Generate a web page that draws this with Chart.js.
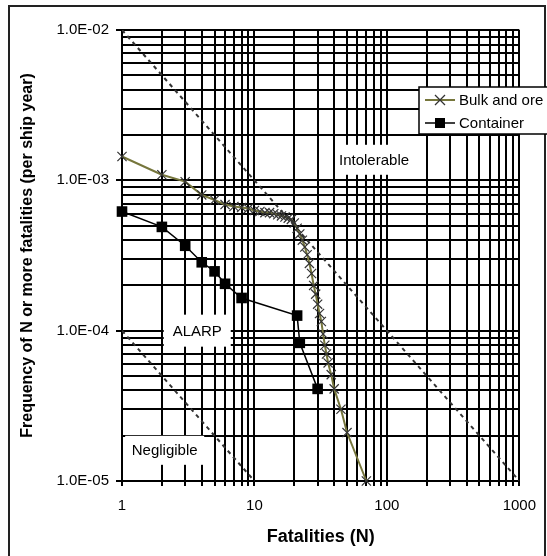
<!DOCTYPE html>
<html><head><meta charset="utf-8">
<script src="https://cdn.jsdelivr.net/npm/chart.js@4.4.1/dist/chart.umd.min.js"></script>
<style>html,body{margin:0;padding:0;background:#fff;}#wrap{width:547px;height:556px;position:relative;}</style>
</head><body><div id="wrap"><canvas id="c" width="547" height="556"></canvas></div>
<script>
// ---- data ----
const bulkN = [1,2,3,4,5,6,7,8,9,10,11,12,13,14,15,16,17,18,19,20,21,22,23,24,25,26,27,28,29,30,31,32,33,34,35,36,38,40,45,50,70];
const bulkF = [1.44e-3,1.09e-3,9.8e-4,8.0e-4,7.4e-4,6.9e-4,6.7e-4,6.6e-4,6.5e-4,6.3e-4,6.2e-4,6.1e-4,6.1e-4,6.0e-4,5.9e-4,5.8e-4,5.7e-4,5.6e-4,5.5e-4,5.2e-4,4.8e-4,4.4e-4,4.0e-4,3.6e-4,3.2e-4,2.8e-4,2.4e-4,2.0e-4,1.75e-4,1.5e-4,1.3e-4,1.15e-4,9.5e-5,8.0e-5,7.0e-5,6.1e-5,5.1e-5,4.1e-5,3.0e-5,2.1e-5,1.0e-5];
const containerN = [1,2,3,4,5,6,8,21,22,30];
const containerF = [6.2e-4,4.9e-4,3.67e-4,2.85e-4,2.48e-4,2.05e-4,1.65e-4,1.26e-4,8.3e-5,4.1e-5];
const intolerableN = [1,1000];
const intolerableF = [1e-2,1e-5];
const negligibleN = [1,10];
const negligibleF = [1e-4,1e-5];
const seriesNames = ['Bulk and ore','Container'];
const xDecades = [1,10,100,1000];
const xTickLabels = ['1','10','100','1000'];
const yDecades = [1e-5,1e-4,1e-3,1e-2];
const yTickLabels = ['1.0E-05','1.0E-04','1.0E-03','1.0E-02'];
const regionNames = ['Intolerable','ALARP','Negligible'];
const xTitle = 'Fatalities (N)';
const yTitle = 'Frequency of N or more fatalities (per ship year)';

function pts(xs, ys){ return xs.map((x,i)=>({x:x,y:ys[i]})); }
function logTicks(dec){
  const out=[];
  for(let i=0;i<dec.length-1;i++){ for(let k=1;k<=9;k++){ out.push(Number((dec[i]*k).toPrecision(12))); } }
  out.push(dec[dec.length-1]);
  return out;
}
function isDecade(v){ const l=Math.log10(v); return Math.abs(l-Math.round(l))<1e-9; }
function decadeIndex(dec, v){ return dec.findIndex(d=>Math.abs(Math.log10(d)-Math.log10(v))<1e-9); }

const FONT = "'Liberation Sans', Arial, sans-serif";

const boxesPlugin = {
  id:'regionBoxes',
  beforeDatasetsDraw(chart, args, opts){
    const ctx=chart.ctx, xs=chart.scales.x, ys=chart.scales.y;
    ctx.save();
    opts.items.forEach(it=>{
      const cx=xs.getPixelForValue(it.n), cy=ys.getPixelForValue(it.f);
      ctx.fillStyle='#fff';
      ctx.fillRect(cx-it.w/2, cy-it.h/2, it.w, it.h);
      ctx.fillStyle='#000';
      ctx.font='15px '+FONT;
      ctx.textAlign='center'; ctx.textBaseline='middle';
      ctx.fillText(it.text, cx, cy+1);
    });
    ctx.restore();
  }
};

const legendPlugin = {
  id:'boxLegend',
  afterDraw(chart, args, opts){
    const ctx=chart.ctx;
    ctx.save();
    // outer frame
    ctx.strokeStyle='#222'; ctx.lineWidth=2;
    ctx.strokeRect(9,6,536,560);
    // legend box
    ctx.fillStyle='#fff'; ctx.strokeStyle='#000'; ctx.lineWidth=1.5;
    ctx.fillRect(opts.x, opts.y, opts.w, opts.h);
    ctx.strokeRect(opts.x, opts.y, opts.w, opts.h);
    ctx.font='15px '+FONT; ctx.textBaseline='middle'; ctx.textAlign='left';
    [0,1].forEach(i=>{
      const ds=chart.data.datasets[i];
      const y=opts.y+opts.rowY[i];
      const x0=opts.x+6, x1=opts.x+36, xm=(x0+x1)/2;
      ctx.strokeStyle=ds.borderColor; ctx.lineWidth=ds.borderWidth;
      ctx.beginPath(); ctx.moveTo(x0,y); ctx.lineTo(x1,y); ctx.stroke();
      if(i===0){
        const r=5;
        ctx.strokeStyle=ds.pointBorderColor; ctx.lineWidth=1.3;
        ctx.beginPath(); ctx.moveTo(xm-r,y-r); ctx.lineTo(xm+r,y+r); ctx.moveTo(xm-r,y+r); ctx.lineTo(xm+r,y-r); ctx.stroke();
      } else {
        ctx.fillStyle='#000'; ctx.fillRect(xm-5,y-5,10,10);
      }
      ctx.fillStyle='#000';
      ctx.fillText(ds.label, opts.x+40, y+1);
    });
    ctx.restore();
  }
};

new Chart(document.getElementById('c'), {
  type:'line',
  data:{ datasets:[
    { label:seriesNames[0], data:pts(bulkN,bulkF), borderColor:'#76763c', borderWidth:2, pointStyle:'crossRot', pointRadius:6.5, pointBorderColor:'#333', pointBorderWidth:1.2, fill:false, tension:0, clip:false },
    { label:seriesNames[1], data:pts(containerN,containerF), borderColor:'#000', borderWidth:1.5, pointStyle:'rect', pointRadius:7.5, pointBackgroundColor:'#000', pointBorderColor:'#000', pointBorderWidth:0, fill:false, tension:0, clip:false },
    { label:'limit1', data:pts(intolerableN,intolerableF), borderColor:'#333', borderWidth:2, borderDash:[4,4], pointRadius:0, fill:false },
    { label:'limit2', data:pts(negligibleN,negligibleF), borderColor:'#333', borderWidth:2, borderDash:[4,4], pointRadius:0, fill:false }
  ]},
  options:{
    responsive:false, animation:false, devicePixelRatio:1,
    layout:{ padding:{ top:30, right:24, left:0, bottom:0 } },
    plugins:{
      legend:{display:false}, tooltip:{enabled:false},
      regionBoxes:{ items:[
        {text:regionNames[0], n:80, f:1.37e-3, w:74, h:30},
        {text:regionNames[1], n:3.7, f:1.0e-4, w:67, h:32},
        {text:regionNames[2], n:2.1, f:1.6e-5, w:79, h:29}
      ]},
      boxLegend:{ x:419, y:87, w:135, h:47, rowY:[13,36] }
    },
    scales:{
      x:{ type:'logarithmic', position:'bottom', min:1, max:1000,
        afterBuildTicks:s=>{ s.ticks=logTicks(xDecades).map(v=>({value:v})); },
        afterFit:s=>{ s.height=75; },
        ticks:{ autoSkip:false, maxRotation:0, minRotation:0, padding:11, color:'#000', font:{family:FONT,size:15},
          callback:(v)=>{ const i=decadeIndex(xDecades,v); return i>=0?xTickLabels[i]:''; } },
        grid:{ color:'#000', lineWidth:2, tickLength:5, tickColor:'#000' },
        border:{ display:true, color:'#000', width:2 },
        title:{ display:true, text:xTitle, color:'#000', font:{family:FONT,size:18,weight:'bold'}, padding:{top:0,bottom:8} }
      },
      y:{ type:'logarithmic', position:'left', min:1e-5, max:1e-2,
        afterBuildTicks:s=>{ s.ticks=logTicks(yDecades).map(v=>({value:v})); },
        afterFit:s=>{ s.width=122; },
        ticks:{ autoSkip:false, padding:7, color:'#000', font:{family:FONT,size:15},
          callback:(v)=>{ const i=decadeIndex(yDecades,v); return i>=0?yTickLabels[i]:''; } },
        grid:{ color:'#000', lineWidth:2, tickLength:6, tickColor:(c)=> (c.tick && isDecade(c.tick.value)) ? '#000' : 'rgba(0,0,0,0)' },
        border:{ display:true, color:'#000', width:2 },
        title:{ display:true, text:yTitle, color:'#000', font:{family:FONT,size:16,weight:'bold'}, padding:{top:18,bottom:0} }
      }
    }
  },
  plugins:[boxesPlugin, legendPlugin]
});
</script></body></html>
